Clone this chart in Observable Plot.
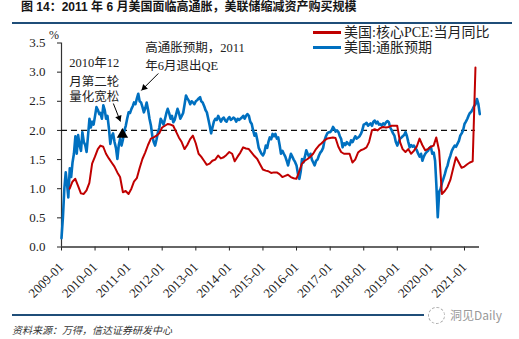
<!DOCTYPE html>
<html><head><meta charset="utf-8">
<script src="https://cdn.jsdelivr.net/npm/d3@7"></script>
<script src="https://cdn.jsdelivr.net/npm/@observablehq/plot@0.6"></script>
<style>
body{margin:0;background:#fff;}
#wrap{position:relative;width:519px;height:339px;overflow:hidden;background:#fff;}
#chart{position:absolute;left:0;top:0;}
.abs{position:absolute;white-space:nowrap;}
.cjk{font-family:'Liberation Serif','Noto Sans CJK SC',serif;}
</style></head><body>
<div id="wrap">
  <div id="chart"></div>
  <div class="abs" id="title" style="left:21px;top:0px;line-height:15px;font-weight:bold;font-size:12px;font-family:'Liberation Sans','Noto Sans CJK SC',sans-serif;color:#151515;"></div>
  <div class="abs" style="left:12px;top:22px;width:500px;height:2px;background:#1f4e79"></div>
  <div class="abs" id="legend" style="left:313px;top:25px;"></div>
  <div class="abs cjk" id="unit" style="left:49px;top:28px;font-size:12px;color:#222;">%</div>
  <div class="abs" style="left:12px;top:314px;width:500px;height:2px;background:#1f4e79"></div>
  <div class="abs" style="left:424px;top:307px;width:88px;height:17px;background:#fff;"></div>
  <div class="abs" style="left:428px;top:307px;width:15px;height:15px;border:1px dashed #aaa;border-radius:50%;"></div>
  <div class="abs" style="left:450px;top:306px;line-height:18px;font-size:12px;color:#999;font-family:'Noto Sans CJK SC',sans-serif;">洞见Daily</div>
  <div class="abs" id="source" style="left:12px;top:322px;line-height:15px;font-size:10px;font-style:italic;color:#333;font-family:'Noto Sans CJK SC',sans-serif;"></div>
</div>
<script>
const titleText = "图 14：2011 年 6 月美国面临高通胀，美联储缩减资产购买规模";
const sourceText = "资料来源：万得，信达证券研发中心";
const seriesNames = ["美国:核心PCE:当月同比", "美国:通胀预期"];
const seriesColors = ["#c00000", "#0070c0"];
const tickYears = [2009,2010,2011,2012,2013,2014,2015,2016,2017,2018,2019,2020,2021];
const yTicks = [0,0.5,1.0,1.5,2.0,2.5,3.0,3.5];

// 美国:通胀预期 — two readings per month (1st, 16th)
const blue2009 = [0.15,0.5,1.0,1.28,1.1,0.85,1.35,1.2,1.45,1.6,1.9,1.6,1.92,1.75,1.65,1.97,1.8,1.75,1.63,1.9,2.2,2.05,2.15,2.1];
const blue2010 = [2.25,2.4,2.35,2.28,2.3,2.2,2.43,2.35,2.2,2.25,2.03,1.77,1.9,1.95,1.8,1.7,1.51,1.75,1.86,1.74,1.85,2.0,2.08,2.2];
const blue2011 = [2.31,2.3,2.37,2.42,2.48,2.45,2.55,2.63,2.5,2.48,2.4,2.31,2.38,2.48,2.35,2.2,2.08,1.9,1.8,1.74,1.85,1.97,2.05,2.2];
const blue2012 = [2.15,2.1,2.2,2.3,2.37,2.3,2.2,2.25,2.14,2.18,2.28,2.37,2.3,2.2,2.25,2.3,2.45,2.6,2.55,2.51,2.45,2.5,2.48,2.45];
const blue2013 = [2.5,2.52,2.55,2.57,2.5,2.48,2.42,2.35,2.31,2.2,2.08,1.95,2.05,2.15,2.2,2.18,2.25,2.2,2.15,2.2,2.22,2.17,2.15,2.2];
const blue2014 = [2.23,2.18,2.2,2.22,2.2,2.15,2.2,2.18,2.2,2.22,2.25,2.2,2.25,2.28,2.25,2.15,2.11,2.0,1.91,1.95,1.83,1.7,1.65,1.6];
const blue2015 = [1.57,1.62,1.74,1.7,1.8,1.88,1.85,1.94,1.9,1.94,1.86,1.88,1.75,1.6,1.65,1.6,1.55,1.48,1.4,1.5,1.6,1.55,1.5,1.46];
const blue2016 = [1.4,1.26,1.17,1.3,1.51,1.45,1.55,1.66,1.6,1.55,1.6,1.5,1.45,1.4,1.48,1.5,1.57,1.62,1.65,1.7,1.83,1.9,1.95,1.97];
const blue2017 = [1.97,2.0,2.06,2.02,1.98,2.0,1.97,1.9,1.85,1.71,1.78,1.75,1.8,1.77,1.75,1.83,1.8,1.85,1.9,1.86,1.88,1.9,1.94,2.0];
const blue2018 = [2.1,2.11,2.13,2.08,2.1,2.12,2.08,2.15,2.17,2.12,2.15,2.1,2.11,2.08,2.12,2.1,2.14,2.16,2.14,2.05,2.0,1.95,1.91,1.8];
const blue2019 = [1.74,1.8,1.86,1.88,1.9,1.92,1.97,1.9,1.8,1.71,1.75,1.72,1.74,1.7,1.66,1.6,1.55,1.6,1.48,1.55,1.6,1.63,1.65,1.7];
const blue2020 = [1.72,1.6,1.62,1.48,1.06,0.51,0.95,1.0,1.1,1.17,1.25,1.34,1.4,1.5,1.57,1.65,1.7,1.74,1.72,1.77,1.82,1.91,1.95,2.0];
const blue2021 = [2.11,2.15,2.2,2.26,2.3,2.32,2.37,2.42,2.45,2.54,2.45,2.28];

// 美国:核心PCE:当月同比 — month-end values, Jan..Dec
const red2009 = [null,null,1.0,1.12,1.17,1.05,0.92,0.91,0.97,1.1,1.43,1.55];
const red2010 = [1.68,1.74,1.72,1.6,1.52,1.45,1.38,1.28,1.2,0.94,0.96,0.91];
const red2011 = [1.0,1.12,1.18,1.35,1.51,1.62,1.75,1.86,1.88,1.91,1.95,2.05];
const red2012 = [2.08,2.11,2.1,2.08,1.98,1.88,1.8,1.68,1.75,1.85,1.91,1.78];
const red2013 = [1.6,1.55,1.48,1.41,1.43,1.48,1.5,1.57,1.52,1.54,1.58,1.63];
const red2014 = [1.6,1.47,1.55,1.62,1.71,1.69,1.68,1.62,1.56,1.51,1.42,1.33];
const red2015 = [1.31,1.3,1.27,1.28,1.28,1.25,1.2,1.22,1.24,1.2,1.18,1.17];
const red2016 = [1.3,1.43,1.48,1.51,1.55,1.6,1.68,1.74,1.78,1.83,1.86,1.87];
const red2017 = [1.88,1.87,1.72,1.63,1.6,1.6,1.6,1.45,1.5,1.62,1.66,1.68];
const red2018 = [1.71,1.8,2.0,2.02,2.0,2.04,2.06,2.05,2.06,2.08,2.08,2.08];
const red2019 = [1.8,1.68,1.63,1.68,1.6,1.65,1.72,1.86,1.75,1.66,1.68,1.72];
const red2020 = [1.74,1.88,1.65,0.91,0.96,1.03,1.15,1.35,1.54,1.45,1.36,1.38];
const red2021 = [1.42,1.45,1.47,3.08];

const blueYears = [blue2009,blue2010,blue2011,blue2012,blue2013,blue2014,blue2015,blue2016,blue2017,blue2018,blue2019,blue2020,blue2021];
const redYears = [red2009,red2010,red2011,red2012,red2013,red2014,red2015,red2016,red2017,red2018,red2019,red2020,red2021];

const blue = [];
blueYears.forEach((arr, k) => arr.forEach((v, i) => blue.push({date: new Date(Date.UTC(tickYears[k], Math.floor(i/2), i % 2 ? 16 : 1)), value: v})));
const red = [];
redYears.forEach((arr, k) => arr.forEach((v, i) => red.push({date: new Date(Date.UTC(tickYears[k], i + 1, 0)), value: v})));

const D = (y, m, d) => new Date(Date.UTC(y, m - 1, d));
const xStart = D(2009,1,1), xEnd = D(2021,6,13);
const refLevel = 2.0, refEnd = D(2021,4,30);

const qe2 = {date: D(2010,10,26), value: 1.93};
const notes1 = [
  {date: D(2009,12,24), value: 3.08, text: "2010年12"},
  {date: D(2009,12,24), value: 2.77, text: "月第二轮"},
  {date: D(2009,12,24), value: 2.50, text: "量化宽松"}
];
const notes2 = [
  {date: D(2011,7,1), value: 3.354, text: "高通胀预期，2011"},
  {date: D(2011,7,1), value: 3.045, text: "年6月退出QE"}
];
const arrows = [
  {x1: D(2010,7,19), y1: 2.462, x2: D(2010,10,4), y2: 2.153, hx: D(2010,9,19), hy: 2.215, rot: 159},
  {x1: D(2011,11,20), y1: 2.977, x2: D(2011,5,19), y2: 2.685, hx: D(2011,6,19), hy: 2.733, rot: 225}
];

const fontCJK = "'Liberation Serif','Noto Sans CJK SC',serif";

const chart = Plot.plot({
  width: 519, height: 339,
  marginLeft: 61, marginRight: 40, marginTop: 42.5, marginBottom: 92.5,
  style: {fontFamily: fontCJK, fontSize: "13px", color: "#222", background: "transparent", overflow: "visible"},
  x: {type: "utc", domain: [xStart, xEnd]},
  y: {domain: [0, 3.5]},
  marks: [
    Plot.axisY({ticks: yTicks, tickFormat: d3.format(".1f"), tickSize: 4, tickPadding: 12, label: null, fontSize: 13}),
    Plot.axisX({ticks: tickYears.map(y => D(y,1,1)), tickFormat: d3.utcFormat("%Y-%m"), tickRotate: -45, tickSize: 4, tickPadding: 14, label: null, fontSize: 13}),
    Plot.ruleY([0], {stroke: "#333", strokeWidth: 1.5}),
    Plot.ruleX([xStart], {stroke: "#333", strokeWidth: 1.2}),
    Plot.ruleY([refLevel], {x1: xStart, x2: refEnd, stroke: "#111", strokeWidth: 1.3, strokeDasharray: "6,4"}),
    Plot.line(blue, {x: "date", y: "value", stroke: seriesColors[1], strokeWidth: 2.6}),
    Plot.line(red, {x: "date", y: "value", stroke: seriesColors[0], strokeWidth: 2}),
    Plot.dot([qe2], {x: "date", y: "value", symbol: "triangle", r: 4.2, fill: "#000", stroke: "none"}),
    Plot.link(arrows, {x1: "x1", y1: "y1", x2: "x2", y2: "y2", stroke: "#000", strokeWidth: 1}),
    Plot.dot(arrows, {x: "hx", y: "hy", symbol: "triangle", r: 2.5, fill: "#000", stroke: "none", rotate: "rot"}),
    Plot.text(notes1, {x: "date", y: "value", text: "text", textAnchor: "middle", lineAnchor: "bottom", fontSize: 12.5, fill: "#222", fontFamily: fontCJK}),
    Plot.text(notes2, {x: "date", y: "value", text: "text", textAnchor: "start", lineAnchor: "bottom", fontSize: 12.5, fill: "#222", fontFamily: fontCJK})
  ]
});
document.getElementById("chart").appendChild(chart);

document.getElementById("title").textContent = titleText;
document.getElementById("source").textContent = sourceText;
const leg = document.getElementById("legend");
seriesNames.forEach((name, i) => {
  const row = document.createElement("div");
  row.style.cssText = "display:flex;align-items:center;height:15px;";
  const sw = document.createElement("span");
  sw.style.cssText = `display:inline-block;width:28px;height:2.5px;background:${seriesColors[i]};margin-right:3px;`;
  const tx = document.createElement("span");
  tx.className = "cjk";
  tx.style.cssText = "font-size:14px;color:#222;line-height:15px;";
  tx.textContent = name;
  row.appendChild(sw); row.appendChild(tx);
  leg.appendChild(row);
});
</script>
</body></html>
